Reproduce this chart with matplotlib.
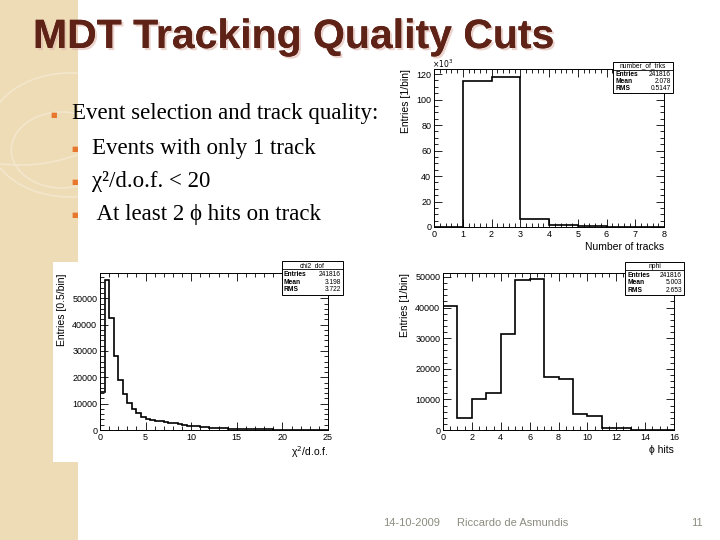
import matplotlib
matplotlib.use('Agg')
import matplotlib.pyplot as plt
import matplotlib.patheffects as pe
from matplotlib.patches import Rectangle, Circle
from matplotlib.ticker import MultipleLocator, AutoMinorLocator
import numpy as np

# slide text
title = 'MDT Tracking Quality Cuts'
bullet_main = 'Event selection and track quality:'
bullet_sub = ['Events with only 1 track', 'χ²/d.o.f. < 20', ' At least 2 ϕ hits on track']
footer_date = '14-10-2009'
footer_author = 'Riccardo de Asmundis'
footer_page = '11'

# number of tracks per event (x10^3 entries, 1/bin)
ntrk_edges = [0, 1, 2, 3, 4, 5, 6, 7, 8]
ntrk_counts = [0, 114.5, 117.5, 6.5, 1.2, 0.5, 0.1, 0.0]
ntrk_stats = ['number_of_trks', '241816', '2.078', '0.5147']

# chi2/dof, 0.5 wide bins from 0 to 25
chi2_counts = [14500, 56800, 42500, 28200, 18900, 13800, 10300, 8000, 6300, 4800,
               4200, 3700, 3500, 3300, 3000, 2800, 2500, 2200, 1900, 1700,
               1500, 1350, 1200, 1050, 900, 800, 700, 620, 550, 480,
               420, 380, 340, 300, 270, 240, 220, 200, 180, 160,
               150, 140, 130, 120, 110, 100, 95, 90, 85, 80]
chi2_stats = ['chi2_dof', '241816', '3.198', '3.722']

# number of phi hits, 1/bin from 0 to 16
nphi_counts = [40500, 4000, 10000, 12000, 31500, 49000, 49500, 17200,
               16800, 5200, 4600, 700, 600, 100, 50, 30]
nphi_stats = ['nphi', '241816', '5.003', '2.653']

W, H = 720, 540
fig = plt.figure(figsize=(7.2, 5.4), dpi=100)
fig.patch.set_facecolor('white')

def fx(x):
    return x / W

def fy(y):
    return 1 - y / H

# beige strip on the left
fig.patches.append(Rectangle((0, 0), fx(78), 1, transform=fig.transFigure,
                             facecolor='#EEDCB6', edgecolor='none', zorder=0))
strip = Rectangle((0, 0), fx(78), 1, transform=fig.transFigure, facecolor='none', edgecolor='none')
fig.patches.append(strip)
for cx, cy, r in [(70, 135, 62), (62, 150, 38), (20, 70, 95)]:
    c = Circle((fx(cx), fy(cy)), r / H, transform=fig.transFigure, facecolor='none',
               edgecolor='#F3E6CC', lw=1.2, zorder=0.5)
    c.set_clip_path(strip)
    fig.patches.append(c)

# white background of the pasted chi2 picture
fig.patches.append(Rectangle((fx(53), fy(462)), fx(347 - 53), (462 - 262) / H,
                             transform=fig.transFigure, facecolor='white',
                             edgecolor='none', zorder=0.8))

# title
fig.text(fx(33), fy(48), title, fontsize=29.5, fontweight='bold', color='#5E2216',
         family='Liberation Sans', va='baseline', ha='left',
         path_effects=[pe.withSimplePatchShadow(offset=(1.5, -1.5), shadow_rgbFace='#E0B8AE', alpha=0.6),
                       pe.Normal()])

# bullets
serif = ['Liberation Serif', 'DejaVu Serif']
sans = ['Liberation Sans', 'DejaVu Sans']
fig.text(fx(54), fy(115), '■', fontsize=5, color='#E8772E', ha='center', va='center')
fig.text(fx(72), fy(114), bullet_main, fontsize=16.5, family=serif, va='center', ha='left')
for i, s in enumerate(bullet_sub):
    yy = 148 + i * 33
    fig.text(fx(75), fy(yy + 1), '■', fontsize=5, color='#E8772E', ha='center', va='center')
    fig.text(fx(92), fy(yy), s, fontsize=16.5, family=serif, va='center', ha='left')

# footer
fig.text(fx(383), fy(523), footer_date, fontsize=8, color='#8C8C80', va='center', family=sans)
fig.text(fx(457), fy(523), footer_author, fontsize=8, color='#8C8C80', va='center', family=sans)
fig.text(fx(703), fy(523), footer_page, fontsize=8, color='#8C8C80', va='center', ha='right', family=sans)


def root_axes(left, top, right, bottom):
    ax = fig.add_axes([fx(left), fy(bottom), fx(right - left), (bottom - top) / H])
    ax.set_zorder(2)
    ax.set_facecolor('none')
    ax.tick_params(which='both', direction='in', top=True, right=True,
                   labelsize=6.5, pad=2, width=0.6)
    ax.tick_params(which='major', length=6)
    ax.tick_params(which='minor', length=3)
    for s in ax.spines.values():
        s.set_linewidth(0.7)
    for lab in ax.get_xticklabels() + ax.get_yticklabels():
        lab.set_family(sans)
    return ax

def stat_box(x0, y0, x1, y1, vals):
    fig.patches.append(Rectangle((fx(x0), fy(y1)), fx(x1 - x0), (y1 - y0) / H,
                                 transform=fig.transFigure, facecolor='white',
                                 edgecolor='black', lw=0.7, zorder=5))
    h = y1 - y0
    fig.lines.append(plt.Line2D([fx(x0), fx(x1)], [fy(y0 + h * 0.25)] * 2,
                                transform=fig.transFigure, color='black', lw=0.6, zorder=6))
    fig.text(fx((x0 + x1) / 2), fy(y0 + h * 0.13), vals[0], fontsize=4.8,
             ha='center', va='center', family=sans, zorder=7)
    for i, name in enumerate(['Entries', 'Mean', 'RMS']):
        yy = fy(y0 + h * (0.41 + i * 0.22))
        fig.text(fx(x0 + 2), yy, name, fontsize=4.8, ha='left', va='center',
                 family=sans, fontweight='bold', zorder=7)
        fig.text(fx(x1 - 2), yy, vals[i + 1], fontsize=4.8, ha='right', va='center',
                 family=sans, zorder=7)

# number of tracks
ax1 = root_axes(434, 69, 664, 227)
ax1.stairs(ntrk_counts, ntrk_edges, baseline=0, color='black', lw=1.2)
ax1.set_xlim(0, 8)
ax1.set_ylim(0, 124)
ax1.xaxis.set_major_locator(MultipleLocator(1))
ax1.xaxis.set_minor_locator(AutoMinorLocator(5))
ax1.yaxis.set_major_locator(MultipleLocator(20))
ax1.yaxis.set_minor_locator(AutoMinorLocator(4))
ax1.set_xlabel('Number of tracks', loc='right', fontsize=7.5, family=sans, labelpad=2)
ax1.set_ylabel('Entries [1/bin]', loc='top', fontsize=7.5, family=sans, labelpad=4)
fig.text(fx(432), fy(64), '×10$^3$', fontsize=5.5, ha='left', va='center')
stat_box(613, 62, 673, 93, ntrk_stats)

# chi2/dof
chi2_edges = np.arange(len(chi2_counts) + 1) * 0.5
ax2 = root_axes(100, 273, 328, 430)
ax2.stairs(chi2_counts, chi2_edges, baseline=0, color='black', lw=1.2)
ax2.set_xlim(0, 25)
ax2.set_ylim(0, 59600)
ax2.xaxis.set_major_locator(MultipleLocator(5))
ax2.xaxis.set_minor_locator(AutoMinorLocator(5))
ax2.yaxis.set_major_locator(MultipleLocator(10000))
ax2.yaxis.set_minor_locator(AutoMinorLocator(5))
ax2.set_xlabel('χ$^2$/d.o.f.', loc='right', fontsize=7.5, family=sans, labelpad=2)
ax2.set_ylabel('Entries [0.5/bin]', loc='top', fontsize=7.5, family=sans, labelpad=4)
stat_box(282, 261, 343, 295, chi2_stats)

# phi hits
nphi_edges = np.arange(len(nphi_counts) + 1)
ax3 = root_axes(443, 273, 674, 430)
ax3.stairs(nphi_counts, nphi_edges, baseline=0, color='black', lw=1.2)
ax3.set_xlim(0, 16)
ax3.set_ylim(0, 51300)
ax3.xaxis.set_major_locator(MultipleLocator(2))
ax3.xaxis.set_minor_locator(AutoMinorLocator(4))
ax3.yaxis.set_major_locator(MultipleLocator(10000))
ax3.yaxis.set_minor_locator(AutoMinorLocator(5))
ax3.set_xlabel('ϕ hits', loc='right', fontsize=7.5, family=sans, labelpad=2)
ax3.set_ylabel('Entries [1/bin]', loc='top', fontsize=7.5, family=sans, labelpad=4)
stat_box(625, 262, 684, 295, nphi_stats)

fig.savefig('out.png', dpi=100)
